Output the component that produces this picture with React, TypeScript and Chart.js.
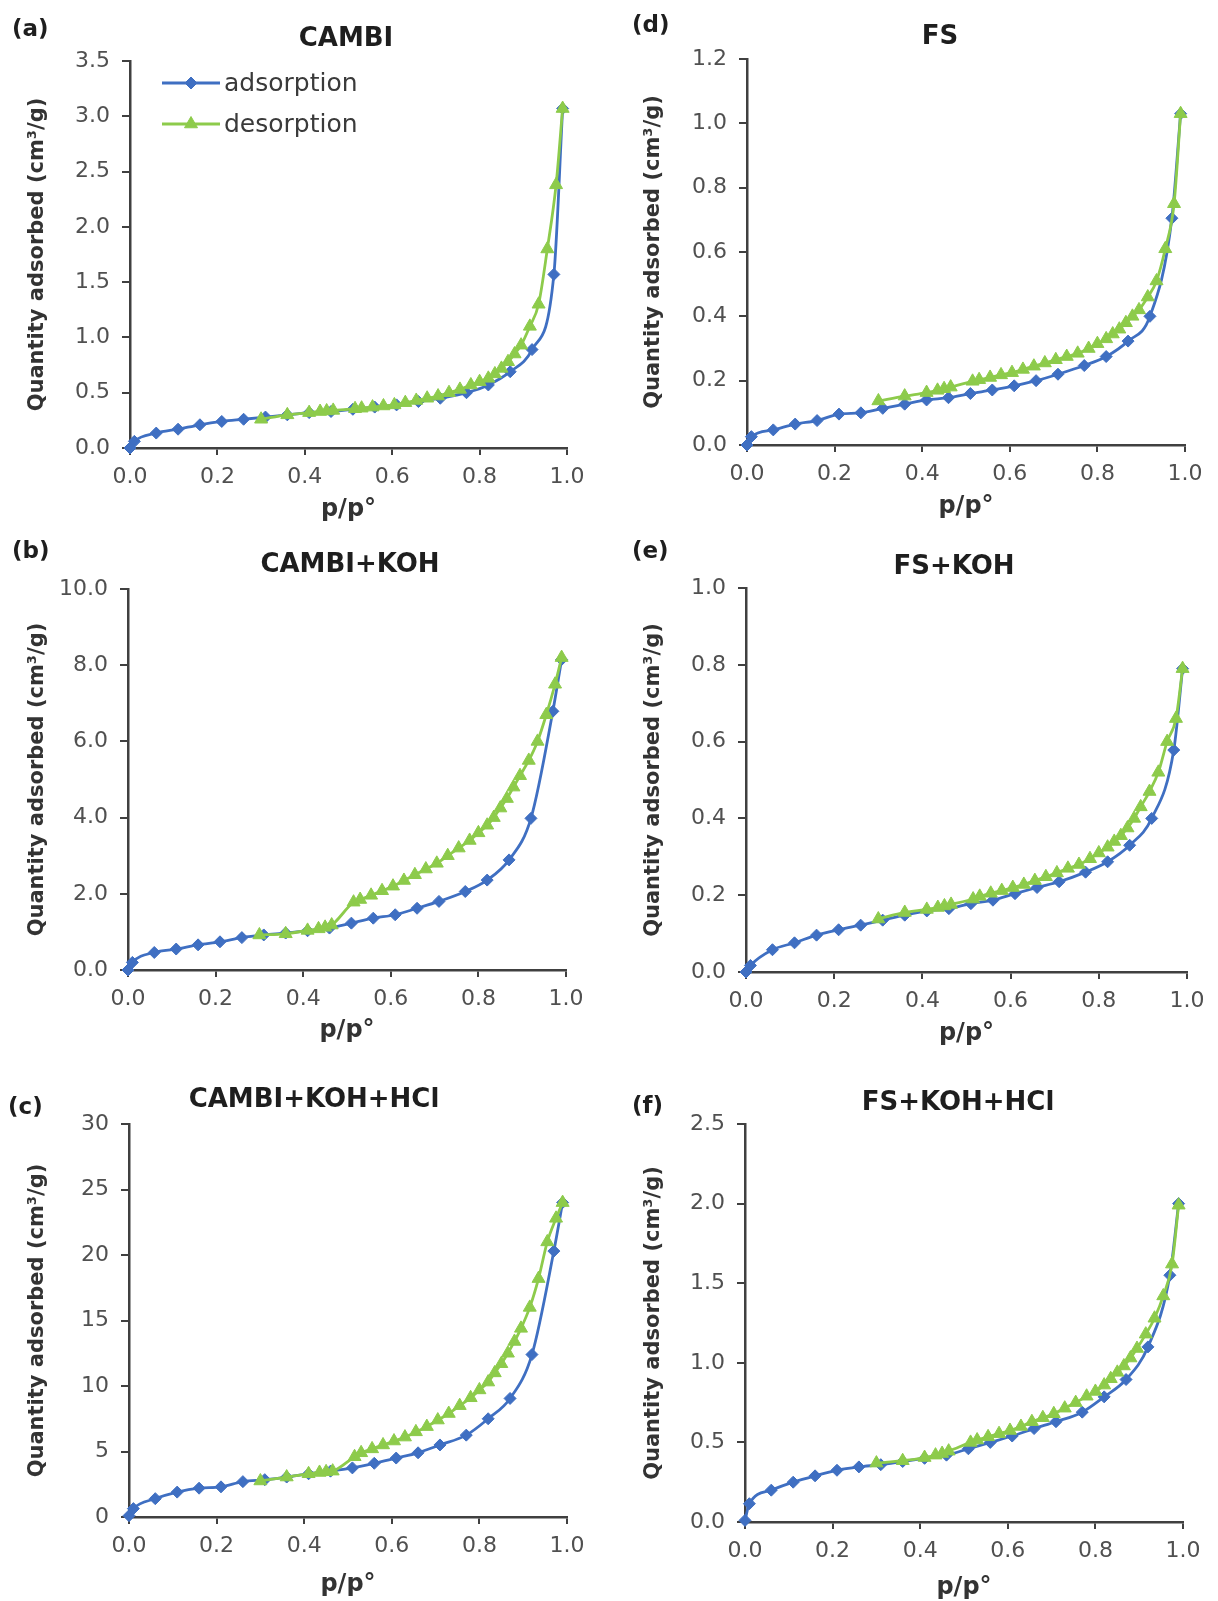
import React, { useEffect, useRef } from "react";
import { Chart, registerables } from "chart.js";
import { drawPoint } from "chart.js/helpers";

Chart.register(...registerables);

// ---------- data ----------
const ADS_X = [0, 0.01, 0.06, 0.11, 0.16, 0.21, 0.26, 0.31, 0.36, 0.41, 0.46, 0.51, 0.56, 0.61, 0.66, 0.71, 0.77, 0.82, 0.87, 0.92, 0.97, 0.99];
const DES_X = [0.30, 0.36, 0.41, 0.435, 0.45, 0.465, 0.515, 0.53, 0.555, 0.58, 0.605, 0.63, 0.655, 0.68, 0.705, 0.73, 0.755, 0.78, 0.80, 0.82, 0.835, 0.85, 0.865, 0.88, 0.895, 0.915, 0.935, 0.955, 0.975, 0.99];

const CAMBI_ADS = [0.0, 0.06, 0.135, 0.17, 0.21, 0.24, 0.26, 0.28, 0.30, 0.32, 0.33, 0.35, 0.37, 0.39, 0.42, 0.45, 0.50, 0.57, 0.69, 0.89, 1.57, 3.07];
const CAMBI_DES = [0.26, 0.30, 0.32, 0.33, 0.335, 0.34, 0.355, 0.36, 0.37, 0.38, 0.39, 0.41, 0.43, 0.45, 0.47, 0.50, 0.53, 0.57, 0.60, 0.63, 0.67, 0.72, 0.78, 0.85, 0.93, 1.10, 1.30, 1.80, 2.38, 3.07];

const CAMBI_KOH_ADS = [0.0, 0.2, 0.46, 0.55, 0.66, 0.74, 0.85, 0.92, 0.97, 1.03, 1.10, 1.23, 1.36, 1.45, 1.62, 1.80, 2.06, 2.36, 2.89, 3.98, 6.79, 8.15];
const CAMBI_KOH_DES = [0.92, 0.95, 1.04, 1.08, 1.12, 1.18, 1.78, 1.85, 1.96, 2.08, 2.2, 2.35, 2.5, 2.65, 2.8, 3.0, 3.2, 3.4, 3.6, 3.8, 4.0, 4.25, 4.5, 4.8, 5.1, 5.5, 6.0, 6.7, 7.5, 8.2];

const CAMBI_KOH_HCL_ADS = [0.1, 0.64, 1.4, 1.9, 2.2, 2.3, 2.7, 2.85, 3.05, 3.3, 3.5, 3.75, 4.1, 4.5, 4.9, 5.5, 6.25, 7.5, 9.05, 12.4, 20.3, 24.0];
const CAMBI_KOH_HCL_DES = [2.75, 3.05, 3.3, 3.4, 3.45, 3.5, 4.6, 4.9, 5.2, 5.5, 5.8, 6.1, 6.5, 6.9, 7.4, 7.9, 8.5, 9.1, 9.7, 10.3, 11.0, 11.7, 12.5, 13.4, 14.4, 16.0, 18.2, 21.0, 22.8, 24.0];

const FS_ADS = [0.0, 0.026, 0.047, 0.065, 0.076, 0.096, 0.10, 0.114, 0.127, 0.14, 0.147, 0.16, 0.171, 0.184, 0.20, 0.22, 0.247, 0.275, 0.323, 0.40, 0.705, 1.03];
const FS_DES = [0.137, 0.152, 0.163, 0.17, 0.175, 0.18, 0.198, 0.203, 0.21, 0.218, 0.225, 0.235, 0.245, 0.255, 0.265, 0.275, 0.285, 0.30, 0.315, 0.33, 0.345, 0.36, 0.38, 0.40, 0.42, 0.46, 0.51, 0.61, 0.75, 1.03];

const FS_KOH_ADS = [0.0, 0.017, 0.058, 0.076, 0.096, 0.11, 0.122, 0.135, 0.148, 0.159, 0.165, 0.178, 0.187, 0.204, 0.22, 0.235, 0.26, 0.287, 0.33, 0.40, 0.578, 0.79];
const FS_KOH_DES = [0.138, 0.155, 0.163, 0.168, 0.172, 0.176, 0.19, 0.197, 0.205, 0.212, 0.22, 0.228, 0.238, 0.248, 0.258, 0.27, 0.28, 0.295, 0.31, 0.325, 0.34, 0.355, 0.375, 0.40, 0.43, 0.47, 0.52, 0.60, 0.66, 0.79];

const FS_KOH_HCL_ADS = [0.01, 0.115, 0.20, 0.25, 0.29, 0.325, 0.346, 0.36, 0.38, 0.40, 0.42, 0.46, 0.50, 0.54, 0.587, 0.63, 0.69, 0.786, 0.895, 1.10, 1.55, 2.0];
const FS_KOH_HCL_DES = [0.37, 0.385, 0.405, 0.42, 0.43, 0.445, 0.50, 0.515, 0.535, 0.555, 0.575, 0.60, 0.63, 0.655, 0.68, 0.715, 0.75, 0.79, 0.82, 0.86, 0.90, 0.94, 0.98, 1.03, 1.09, 1.18, 1.28, 1.42, 1.62, 1.99];

const SERIES_NAMES = ["adsorption", "desorption"];
const Y_LABEL = "Quantity adsorbed (cm³/g)";
const X_LABEL = "p/p°";

const PANELS = [
  { key: "a", tag: "(a)", title: "CAMBI", ads: CAMBI_ADS, des: CAMBI_DES, yMax: 3.5, yStep: 0.5, yDec: 1, legend: true },
  { key: "b", tag: "(b)", title: "CAMBI+KOH", ads: CAMBI_KOH_ADS, des: CAMBI_KOH_DES, yMax: 10, yStep: 2, yDec: 1, legend: false },
  { key: "c", tag: "(c)", title: "CAMBI+KOH+HCl", ads: CAMBI_KOH_HCL_ADS, des: CAMBI_KOH_HCL_DES, yMax: 30, yStep: 5, yDec: 0, legend: false },
  { key: "d", tag: "(d)", title: "FS", ads: FS_ADS, des: FS_DES, yMax: 1.2, yStep: 0.2, yDec: 1, legend: false },
  { key: "e", tag: "(e)", title: "FS+KOH", ads: FS_KOH_ADS, des: FS_KOH_DES, yMax: 1.0, yStep: 0.2, yDec: 1, legend: false },
  { key: "f", tag: "(f)", title: "FS+KOH+HCl", ads: FS_KOH_HCL_ADS, des: FS_KOH_HCL_DES, yMax: 2.5, yStep: 0.5, yDec: 1, legend: false },
];

// ---------- layout (page coordinates) ----------
const LAYOUT: Record<string, any> = {
  a: { canvas: [0, 0, 609, 530], L: 130, T: 61, R: 567, B: 448, titleX: 346, titleY: 39, tagX: 12, tagY: 30, yTitleX: 38, xGap: 62 },
  b: { canvas: [0, 530, 609, 530], L: 128, T: 589, R: 566, B: 970, titleX: 350, titleY: 565, tagX: 12, tagY: 552, yTitleX: 38, xGap: 61 },
  c: { canvas: [0, 1060, 609, 541], L: 129, T: 1124, R: 567, B: 1517, titleX: 314, titleY: 1100, tagX: 8, tagY: 1108, yTitleX: 38, xGap: 68 },
  d: { canvas: [609, 0, 609, 530], L: 747, T: 59, R: 1185, B: 445, titleX: 940, titleY: 37, tagX: 632, tagY: 26, yTitleX: 654, xGap: 62 },
  e: { canvas: [609, 530, 609, 530], L: 746, T: 588, R: 1187, B: 972, titleX: 954, titleY: 567, tagX: 632, tagY: 552, yTitleX: 654, xGap: 62 },
  f: { canvas: [609, 1060, 609, 541], L: 745, T: 1124, R: 1183, B: 1522, titleX: 958, titleY: 1103, tagX: 632, tagY: 1107, yTitleX: 654, xGap: 66 },
};

const FONT = '"DejaVu Sans", "Liberation Sans", sans-serif';
const BLUE = "#3f6fc2";
const GREEN = "#8dcb4b";
const AXIS = "#404040";
const TICK = "#505050";
const LABEL = "#333333";

const decorPlugin = {
  id: "decor",
  afterDraw(chart: any, _args: any, opts: any) {
    const ctx = chart.ctx;
    ctx.save();
    ctx.fillStyle = "#1e1e1e";
    ctx.textBaseline = "middle";
    ctx.textAlign = "left";
    ctx.font = `bold 23px ${FONT}`;
    ctx.fillText(opts.tag, opts.tagX, opts.tagY);
    ctx.textAlign = "center";
    ctx.font = `bold 26px ${FONT}`;
    ctx.fillText(opts.title, opts.titleX, opts.titleY);
    if (opts.legend) {
      const rows = [
        { ds: chart.data.datasets[0], y: 83 },
        { ds: chart.data.datasets[1], y: 124 },
      ];
      for (const r of rows) {
        const ds = r.ds;
        ctx.strokeStyle = ds.borderColor;
        ctx.lineWidth = ds.borderWidth;
        ctx.beginPath();
        ctx.moveTo(opts.legX1, r.y);
        ctx.lineTo(opts.legX2, r.y);
        ctx.stroke();
        ctx.fillStyle = ds.pointBackgroundColor;
        ctx.strokeStyle = ds.pointBorderColor;
        ctx.lineWidth = 1;
        drawPoint(ctx, { pointStyle: ds.pointStyle, radius: ds.pointRadius, rotation: 0, borderWidth: 1 } as any, (opts.legX1 + opts.legX2) / 2, r.y);
        ctx.fillStyle = "#3a3a3a";
        ctx.textAlign = "left";
        ctx.font = `25px ${FONT}`;
        ctx.fillText(ds.label, opts.legX2 + 4, r.y + 1);
      }
    }
    ctx.restore();
  },
};

function Panel({ p }: { p: any }) {
  const ref = useRef<HTMLCanvasElement>(null);
  const box = LAYOUT[p.key];
  const [cx, cy, cw, ch] = box.canvas;

  useEffect(() => {
    const canvas = ref.current;
    if (!canvas) return;
    const yTitleSize = 21;
    const yTitleLH = 1.2;
    const xTitleSize = 24;
    const xTitleLH = 1.0;
    const padLeft = box.yTitleX - cx - (yTitleSize * yTitleLH) / 2;
    const yWidth = box.L - cx - padLeft;
    const xHeight = box.xGap + (xTitleSize * xTitleLH) / 2;
    const padTop = box.T - cy;
    const padRight = cx + cw - box.R;
    const padBottom = cy + ch - (box.B + xHeight);

    const chart = new Chart(canvas, {
      type: "line",
      data: {
        datasets: [
          {
            label: SERIES_NAMES[0],
            data: ADS_X.map((x, i) => ({ x, y: p.ads[i] })),
            borderColor: BLUE,
            backgroundColor: BLUE,
            pointBackgroundColor: BLUE,
            pointBorderColor: BLUE,
            pointStyle: "rectRot",
            pointRadius: 6,
            pointBorderWidth: 1,
            borderWidth: 2.8,
            cubicInterpolationMode: "monotone",
            clip: false,
            order: 1,
          },
          {
            label: SERIES_NAMES[1],
            data: DES_X.map((x, i) => ({ x, y: p.des[i] })),
            borderColor: GREEN,
            backgroundColor: GREEN,
            pointBackgroundColor: GREEN,
            pointBorderColor: GREEN,
            pointStyle: "triangle",
            pointRadius: 7.5,
            pointBorderWidth: 1,
            borderWidth: 2.8,
            cubicInterpolationMode: "monotone",
            clip: false,
            order: 0,
          },
        ],
      } as any,
      options: {
        responsive: false,
        animation: false,
        devicePixelRatio: 1,
        layout: { padding: { left: padLeft, top: padTop, right: padRight, bottom: padBottom } },
        plugins: {
          legend: { display: false },
          title: { display: false },
          tooltip: { enabled: false },
          decor: {
            tag: p.tag,
            tagX: box.tagX - cx,
            tagY: box.tagY - cy,
            title: p.title,
            titleX: box.titleX - cx,
            titleY: box.titleY - cy,
            legend: p.legend,
            legX1: 162 - cx,
            legX2: 220 - cx,
          },
        } as any,
        scales: {
          x: {
            type: "linear",
            min: 0,
            max: 1,
            ticks: {
              stepSize: 0.2,
              callback: (v: any) => Number(v).toFixed(1),
              font: { family: FONT, size: 22 },
              color: TICK,
              padding: 9,
              maxRotation: 0,
              autoSkip: false,
            },
            grid: { display: true, drawOnChartArea: false, drawTicks: true, tickLength: 7, tickWidth: 2, tickColor: AXIS, lineWidth: 2, color: AXIS },
            border: { display: true, color: AXIS, width: 2.5 },
            title: { display: true, text: X_LABEL, font: { family: FONT, size: xTitleSize, weight: "bold", lineHeight: xTitleLH }, color: LABEL, padding: 0 },
            afterFit: (s: any) => {
              s.height = xHeight;
            },
          },
          y: {
            type: "linear",
            min: 0,
            max: p.yMax,
            ticks: {
              stepSize: p.yStep,
              callback: (v: any) => Number(v).toFixed(p.yDec),
              font: { family: FONT, size: 22 },
              color: TICK,
              padding: 12,
              autoSkip: false,
            },
            grid: { display: true, drawOnChartArea: false, drawTicks: true, tickLength: 8, tickWidth: 2, tickColor: AXIS, lineWidth: 2, color: AXIS },
            border: { display: true, color: AXIS, width: 2.5 },
            title: { display: true, text: Y_LABEL, font: { family: FONT, size: yTitleSize, weight: "bold", lineHeight: yTitleLH }, color: LABEL, padding: 0 },
            afterFit: (s: any) => {
              s.width = yWidth;
            },
          },
        },
      } as any,
      plugins: [decorPlugin as any],
    });
    return () => chart.destroy();
  }, []);

  return (
    <canvas
      ref={ref}
      width={cw}
      height={ch}
      style={{ position: "absolute", left: cx, top: cy, width: cw, height: ch, display: "block" }}
    />
  );
}

export default function App() {
  return (
    <div style={{ position: "absolute", left: 0, top: 0, width: 1218, height: 1601, background: "#ffffff", overflow: "hidden" }}>
      {PANELS.map((p) => (
        <Panel key={p.key} p={p} />
      ))}
    </div>
  );
}
